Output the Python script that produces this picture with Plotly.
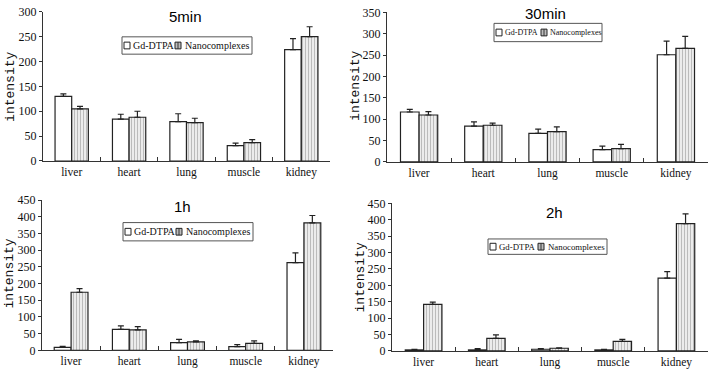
import plotly.graph_objects as go

W, H = 709, 373

categories = ["liver", "heart", "lung", "muscle", "kidney"]
series_names = ["Gd-DTPA", "Nanocomplexes"]

panel_titles = ["5min", "30min", "1h", "2h"]

gd_5min = [130, 84, 79, 31, 224]
gd_5min_err = [5, 10, 16, 5, 22]
nano_5min = [105, 88, 77, 37, 250]
nano_5min_err = [5, 12, 9, 6, 20]

gd_30min = [117, 84, 67, 29, 251]
gd_30min_err = [6, 10, 10, 8, 32]
nano_30min = [110, 86, 71, 31, 266]
nano_30min_err = [8, 5, 11, 10, 28]

gd_1h = [9, 63, 23, 11, 263]
gd_1h_err = [3, 10, 10, 6, 29]
nano_1h = [174, 61, 25, 21, 382]
nano_1h_err = [11, 10, 3, 7, 22]

gd_2h = [3, 3, 5, 3, 222]
gd_2h_err = [2, 4, 2, 2, 20]
nano_2h = [142, 38, 8, 29, 388]
nano_2h_err = [7, 11, 1, 6, 30]

y_max = [300, 350, 450, 450]
y_dtick = [50, 50, 50, 50]

panels = [
    (gd_5min, gd_5min_err, nano_5min, nano_5min_err),
    (gd_30min, gd_30min_err, nano_30min, nano_30min_err),
    (gd_1h, gd_1h_err, nano_1h, nano_1h_err),
    (gd_2h, gd_2h_err, nano_2h, nano_2h_err),
]

# layout geometry (pixels)
dom_px = [
    (43, 330, 160, 5),
    (387, 708, 161, 5.7),
    (42, 333, 356.7, 200.7),
    (392, 708, 357.3, 204),
]
title_px = [(185, 10), (545, 7), (182, 207), (554, 213)]
ylab_px = [(11, 83), (356, 82), (10, 277), (360, 281)]
# legend: box x0, x1, y0, y1, symbol1 x, text1 x, symbol2 x, text2 x, font size
legend_px = [
    (122, 252, 31, 49, 124, 131, 175, 183, 10),
    (494, 602, 17, 36, 496, 503, 541, 548, 8),
    (123, 253, 224, 243, 125, 132, 176, 184, 10),
    (488, 607, 241, 257, 490, 497, 538, 546, 8.8),
]


def px(x):
    return x / W


def py(y):
    return 1 - y / H


fig = go.Figure()
axis_color = "#333333"
tick_font = dict(family="Liberation Serif", size=12, color="#111")

for i, (gd, gde, na, nae) in enumerate(panels):
    n = "" if i == 0 else str(i + 1)
    xa, ya = "x" + n, "y" + n
    fig.add_trace(go.Bar(
        x=categories, y=gd, name=series_names[0], xaxis=xa, yaxis=ya,
        marker=dict(color="white", line=dict(color="#222", width=1.2)),
        error_y=dict(type="data", array=gde, arrayminus=[0] * len(gde), symmetric=False,
                     color="#222", thickness=1.2, width=3),
        showlegend=False,
    ))
    fig.add_trace(go.Bar(
        x=categories, y=na, name=series_names[1], xaxis=xa, yaxis=ya,
        marker=dict(color="#e6e6e6", line=dict(color="#222", width=1.2),
                    pattern=dict(shape="|", fgcolor="#8a8a8a", bgcolor="#ececec",
                                 size=3, solidity=0.35)),
        error_y=dict(type="data", array=nae, arrayminus=[0] * len(nae), symmetric=False,
                     color="#222", thickness=1.2, width=3),
        showlegend=False,
    ))
    x0, x1, yb, yt = dom_px[i]
    fig.layout["xaxis" + n] = dict(
        domain=[px(x0), px(x1)], anchor=ya, showline=True, linecolor=axis_color,
        linewidth=1, ticks="inside", tickson="boundaries", ticklen=4,
        tickcolor=axis_color, showgrid=False, zeroline=False,
        tickfont=dict(family="Liberation Serif", size=11.5, color="#111"),
        fixedrange=True,
    )
    fig.layout["yaxis" + n] = dict(
        domain=[py(yb), py(yt)], anchor=xa, range=[0, y_max[i]], dtick=y_dtick[i],
        showline=True, linecolor=axis_color, linewidth=1, ticks="outside",
        ticklen=3, tickcolor=axis_color, showgrid=False, zeroline=False,
        tickfont=tick_font, fixedrange=True,
    )

annotations = []
shapes = []
for i in range(4):
    tx, ty = title_px[i]
    annotations.append(dict(
        text=panel_titles[i], x=px(tx), y=py(ty), xref="paper", yref="paper",
        xanchor="center", yanchor="middle", showarrow=False,
        font=dict(family="Liberation Sans", size=15, color="#000"),
    ))
    lx, ly = ylab_px[i]
    annotations.append(dict(
        text="intensity", x=px(lx), y=py(ly), xref="paper", yref="paper",
        xanchor="center", yanchor="middle", showarrow=False, textangle=-90,
        font=dict(family="Liberation Mono", size=13, color="#111"),
    ))
    bx0, bx1, by0, by1, s1x, t1x, s2x, t2x, fs = legend_px[i]
    shapes.append(dict(type="rect", xref="paper", yref="paper",
                       x0=px(bx0), x1=px(bx1), y0=py(by0), y1=py(by1),
                       line=dict(color="#555", width=1), fillcolor="white"))
    cy = (by0 + by1) / 2
    for sx, fill in ((s1x, "white"), (s2x, "#bdbdbd")):
        shapes.append(dict(type="rect", xref="paper", yref="paper",
                           x0=px(sx), x1=px(sx + 6), y0=py(cy - 3.5), y1=py(cy + 3.5),
                           line=dict(color="#222", width=1), fillcolor=fill))
    shapes.append(dict(type="line", xref="paper", yref="paper",
                       x0=px(s2x + 3), x1=px(s2x + 3), y0=py(cy - 3.5), y1=py(cy + 3.5),
                       line=dict(color="#333", width=1)))
    for tx0, label in ((t1x, series_names[0]), (t2x, series_names[1])):
        annotations.append(dict(
            text=label, x=px(tx0), y=py(cy), xref="paper", yref="paper",
            xanchor="left", yanchor="middle", showarrow=False,
            font=dict(family="Liberation Serif", size=fs, color="#111"),
        ))

fig.update_layout(
    width=W, height=H, margin=dict(l=0, r=0, t=0, b=0),
    paper_bgcolor="white", plot_bgcolor="white",
    barmode="group", bargap=0.42, bargroupgap=0,
    annotations=annotations, shapes=shapes, showlegend=False,
)

fig.write_html("out.html", config={"displayModeBar": False},
               post_script="document.body.style.margin='0px';document.body.style.padding='0px';")
